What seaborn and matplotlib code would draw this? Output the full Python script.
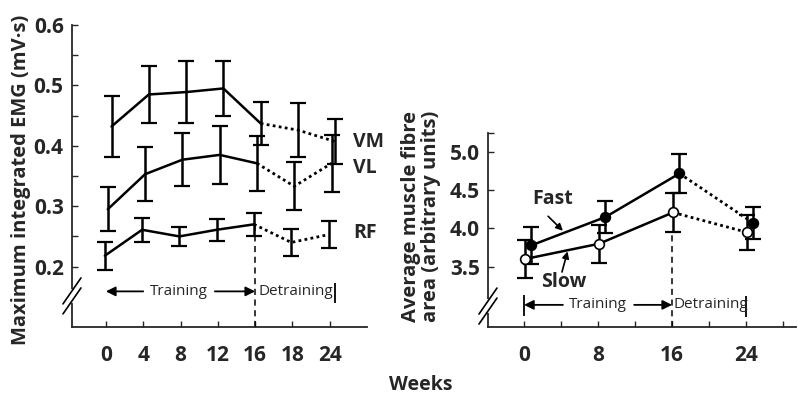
import seaborn as sns
import matplotlib.pyplot as plt
import numpy as np

# left panel: max integrated EMG (mV·s)
weeks_left = ['0', '4', '8', '12', '16', '18', '24']
vm_mean = [0.432, 0.485, 0.489, 0.495, 0.437, 0.426, 0.407]
vm_err = [0.050, 0.047, 0.051, 0.046, 0.036, 0.045, 0.037]
vl_mean = [0.295, 0.353, 0.377, 0.385, 0.371, 0.333, 0.371]
vl_err = [0.036, 0.045, 0.044, 0.048, 0.045, 0.040, 0.047]
rf_mean = [0.218, 0.261, 0.250, 0.261, 0.270, 0.240, 0.253]
rf_err = [0.023, 0.020, 0.016, 0.018, 0.019, 0.023, 0.022]

# right panel: average muscle fibre area
weeks_right = [0, 8, 16, 24]
fast_mean = [3.78, 4.15, 4.72, 4.07]
fast_err = [0.24, 0.21, 0.25, 0.21]
slow_mean = [3.60, 3.80, 4.21, 3.95]
slow_err = [0.25, 0.25, 0.25, 0.23]

FONT = ['Open Sans', 'DejaVu Sans']
LW = 1.8


def style_axes(ax):
    sns.despine(ax=ax)
    for s in ['left', 'bottom']:
        ax.spines[s].set_linewidth(1.3)
    ax.tick_params(direction='in', length=4, width=1, labelsize=15, pad=6)
    ax.tick_params(axis='x', pad=13)
    for lab in ax.get_xticklabels() + ax.get_yticklabels():
        lab.set_fontweight('bold')


def draw_break(ax, yfrac):
    fig = ax.figure
    bb = ax.get_position()
    w = bb.width * fig.get_figwidth() * fig.dpi
    h = bb.height * fig.get_figheight() * fig.dpi
    dx, dy = 9 / w, 13 / h
    gap = 5 / h
    ax.plot([0, 0], [yfrac - gap, yfrac + gap], color='white', lw=3,
            transform=ax.transAxes, clip_on=False, zorder=5)
    for off in (-gap, gap):
        ax.plot([-dx, dx], [yfrac + off - dy, yfrac + off + dy], color='black',
                lw=1.2, transform=ax.transAxes, clip_on=False, zorder=6)


def series(ax, x, mean, err, split, capsize, marker=None, mfc='black'):
    x = np.asarray(x, dtype=float)
    sns.lineplot(x=x[:split + 1], y=mean[:split + 1], color='black', lw=LW,
                 ax=ax, sort=False, estimator=None)
    sns.lineplot(x=x[split:], y=mean[split:], color='black', lw=LW + 0.2,
                 linestyle=(0, (1, 1.2)), ax=ax, sort=False, estimator=None)
    ax.errorbar(x, mean, yerr=err, fmt='none', ecolor='black', elinewidth=1.8,
                capsize=capsize, capthick=1.6)
    if marker:
        ax.plot(x, mean, marker, ms=7, mfc=mfc, mec='black', mew=1.2, zorder=4)


def arrow(ax, head, tail, lw=1.3, scale=14):
    ax.annotate('', xy=head, xytext=tail,
                arrowprops=dict(arrowstyle='-|>', color='black', lw=lw,
                                mutation_scale=scale, shrinkA=0, shrinkB=0))


def left_panel(ax):
    pos = np.arange(len(weeks_left))
    series(ax, pos + 0.15, vm_mean, vm_err, 4, 6)
    series(ax, pos + 0.05, vl_mean, vl_err, 4, 6)
    series(ax, pos - 0.03, rf_mean, rf_err, 4, 6)
    ax.set_xlim(-0.91, 7.0)
    ax.set_ylim(0.1, 0.6)
    ax.set_xticks(pos)
    ax.set_xticklabels(weeks_left)
    ax.set_yticks([0.2, 0.3, 0.4, 0.5, 0.6])
    ax.set_yticks([0.25, 0.35, 0.45, 0.55], minor=True)
    ax.tick_params(which='minor', direction='in', length=4, width=1)
    style_axes(ax)
    ax.vlines(4, 0.1, 0.267, colors='black', linestyles=(0, (4, 3)), lw=1.1)
    # training / detraining
    y = 0.159
    arrow(ax, (0, y), (1.0, y))
    arrow(ax, (4, y), (2.92, y))
    ax.text(1.96, y, 'Training', ha='center', va='center', fontsize=11,
            family=FONT)
    ax.text(4.1, y, 'Detraining', ha='left', va='center', fontsize=11,
            family=FONT)
    ax.vlines(6.14, 0.140, 0.173, colors='black', lw=1.3)
    for name, yv in [('VM', 0.407), ('VL', 0.363), ('RF', 0.256)]:
        ax.text(6.62, yv, name, ha='left', va='center', fontsize=14,
                fontweight='bold', family=FONT)
    draw_break(ax, 0.103)


def right_panel(ax):
    series(ax, np.array(weeks_right) + 0.1, slow_mean, slow_err, 2, 5.5,
           marker='o', mfc='white')
    series(ax, np.array(weeks_right) + 0.8, fast_mean, fast_err, 2, 5.5,
           marker='o', mfc='black')
    ax.set_xlim(-3.9, 29.4)
    ax.set_ylim(2.71, 5.25)
    ax.set_xticks(weeks_right)
    ax.set_xticks([4, 12, 20, 28], minor=True)
    ax.set_yticks([3.5, 4.0, 4.5, 5.0])
    ax.set_yticks([5.25], minor=True)
    ax.tick_params(which='minor', direction='in', length=4, width=1)
    style_axes(ax)
    ax.vlines(16, 2.71, 3.96, colors='black', linestyles=(0, (4, 3)), lw=1.1)
    y = 3.0
    arrow(ax, (0, y), (4.2, y))
    arrow(ax, (16, y), (11.9, y))
    ax.vlines(0, 2.86, 3.13, colors='black', lw=1.3)
    ax.vlines(24, 2.84, 3.11, colors='black', lw=1.3)
    ax.text(8.0, y, 'Training', ha='center', va='center', fontsize=11,
            family=FONT)
    ax.text(16.2, y, 'Detraining', ha='left', va='center', fontsize=11,
            family=FONT)
    ax.text(0.86, 4.38, 'Fast', ha='left', va='center', fontsize=14,
            fontweight='bold', family=FONT)
    ax.text(1.8, 3.30, 'Slow', ha='left', va='center', fontsize=14,
            fontweight='bold', family=FONT)
    arrow(ax, (4.2, 3.97), (2.6, 4.16), lw=1.2, scale=10)
    arrow(ax, (4.7, 3.70), (4.1, 3.43), lw=1.2, scale=10)
    draw_break(ax, 0.108)


if __name__ == '__main__':
    sns.set_style('ticks')
    plt.rcParams['font.family'] = FONT
    fig = plt.figure(figsize=(7.98, 3.94), dpi=100)
    ax1 = fig.add_axes([0.0902, 0.170, 0.3697, 0.7665])
    ax2 = fig.add_axes([0.6115, 0.170, 0.386, 0.4924])
    left_panel(ax1)
    right_panel(ax2)
    fig.text(21 / 798, 0.543, 'Maximum integrated EMG (mV·s)', rotation=90,
             ha='center', va='center', fontsize=14.5, fontweight='bold')
    fig.text(421 / 798, 0.45, 'Average muscle fibre\narea (arbitrary units)',
             rotation=90, ha='center', va='center', fontsize=14.5,
             fontweight='bold', linespacing=1.0)
    fig.text(421 / 798, 0.023, 'Weeks', ha='center', va='center', fontsize=14,
             fontweight='bold')
    fig.savefig('out.png', dpi=100)
